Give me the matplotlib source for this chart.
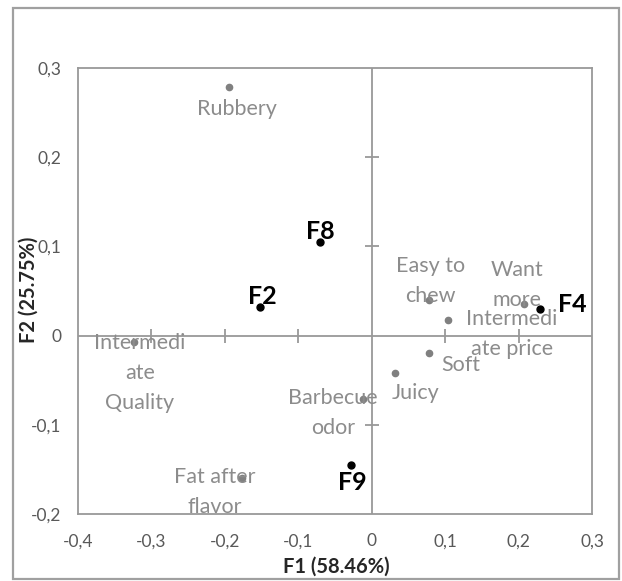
import matplotlib
matplotlib.use("Agg")
import matplotlib.pyplot as plt
from matplotlib.patches import Rectangle
from matplotlib.ticker import FuncFormatter

plt.rcParams['font.family'] = ['Lato', 'DejaVu Sans']

# Attributes (gray)
attr_labels = ["Rubbery", "Easy to\nchew", "Want\nmore", "Intermedi\nate price", "Soft",
               "Juicy", "Barbecue\nodor", "Intermedi\nate\nQuality", "Fat after\nflavor"]
attr_x = [-0.194, 0.0785, 0.2075, 0.104, 0.0785, 0.032, -0.012, -0.324, -0.177]
attr_y = [0.279, 0.040, 0.035, 0.017, -0.019, -0.042, -0.071, -0.007, -0.160]

# Samples (black)
samp_labels = ["F8", "F2", "F4", "F9"]
samp_x = [-0.071, -0.152, 0.229, -0.028]
samp_y = [0.105, 0.032, 0.030, -0.145]

xticks = [-0.4, -0.3, -0.2, -0.1, 0, 0.1, 0.2, 0.3]
yticks = [-0.2, -0.1, 0, 0.1, 0.2, 0.3]

# label offsets in pixels (layout only)
attr_off = [(8, -22), (1, 19), (-7, 19), (64, -14), (31, -12), (20, -20), (-30, -14), (6, -31), (-27, -14)]
samp_off = [(1, 10), (2, 11), (32, 4), (1, -18)]

fig = plt.figure(figsize=(6.22, 5.81), dpi=100)
fig.patch.set_facecolor('white')
fig.patches.append(Rectangle((13/622, 1-579/581), (619-13)/622, (579-8)/581,
                             transform=fig.transFigure, fill=False, edgecolor='#a0a0a0', lw=1.6))

ax = fig.add_axes([78/622, 1-514/581, 514/622, 446/581])
ax.set_xlim(-0.4, 0.3)
ax.set_ylim(-0.2, 0.3)
ax.set_xticks(xticks)
ax.set_yticks(yticks)
fmt = FuncFormatter(lambda v, p: ("%g" % round(v, 2)).replace('.', ','))
ax.xaxis.set_major_formatter(fmt)
ax.yaxis.set_major_formatter(fmt)
ax.tick_params(length=0, labelsize=12.5, labelcolor='#595959')
ax.tick_params(axis='x', pad=14)
ax.tick_params(axis='y', pad=12)
for s in ax.spines.values():
    s.set_color('#999999')
    s.set_linewidth(1.3)

ax.axhline(0, color='#999999', lw=1.3, zorder=1)
ax.axvline(0, color='#999999', lw=1.3, zorder=1)
inner_x = [t for t in xticks if -0.4 < t < 0.3 and t != 0]
inner_y = [t for t in yticks if -0.2 < t < 0.3 and t != 0]
ax.plot(inner_x, [0]*len(inner_x), ls='none', marker='|',
        ms=10, mew=1.3, color='#999999', zorder=1)
ax.plot([0]*len(inner_y), inner_y, ls='none', marker='_',
        ms=10, mew=1.3, color='#999999', zorder=1)

ax.plot(attr_x, attr_y, ls='none', marker='o', ms=4.5, color='#808080', zorder=3)
ax.plot(samp_x, samp_y, ls='none', marker='o', ms=5, color='black', zorder=3)

for lab, x, y, off in zip(attr_labels, attr_x, attr_y, attr_off):
    ax.annotate(lab, (x, y), xytext=off, textcoords='offset pixels', ha='center', va='center',
                fontsize=15.5, color='#8c8c8c', linespacing=1.62, zorder=4)
for lab, x, y, off in zip(samp_labels, samp_x, samp_y, samp_off):
    ax.annotate(lab, (x, y), xytext=off, textcoords='offset pixels', ha='center', va='center',
                fontsize=18, color='black', fontweight='bold', zorder=4)

ax.set_xlabel("F1 (58.46%)", fontsize=14.5, fontweight='bold', color='#262626')
ax.set_ylabel("F2 (25.75%)", fontsize=14.5, fontweight='bold', color='#262626')
ax.xaxis.set_label_coords((336-78)/514, -(567-514)/446)
ax.yaxis.set_label_coords((29-78)/514, (514-290)/446)
ax.xaxis.label.set_va('center')
ax.yaxis.label.set_va('center')

fig.savefig("out.png", dpi=100)
